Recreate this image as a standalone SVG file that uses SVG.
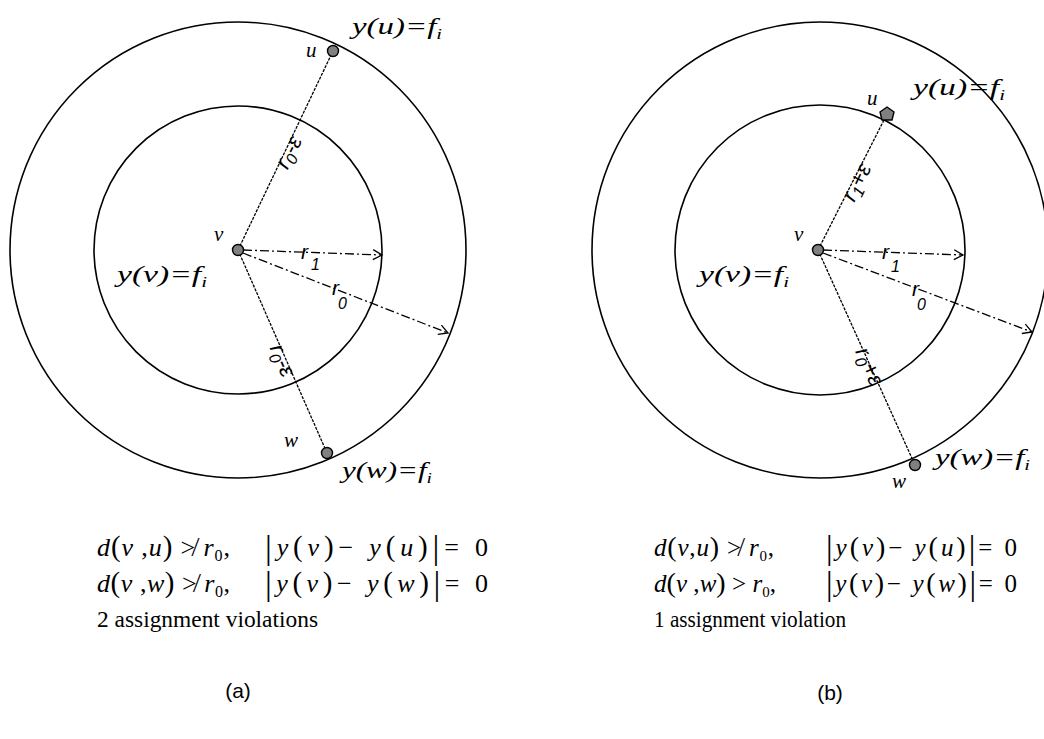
<svg xmlns="http://www.w3.org/2000/svg" width="1044" height="739" viewBox="0 0 1044 739">
<style>
.circ{fill:none;stroke:#000;stroke-width:1.6}
.edge{fill:none;stroke:#000;stroke-width:1.3;stroke-dasharray:3,1.2}
.rad{fill:none;stroke:#000;stroke-width:1.3;stroke-dasharray:9,3,2,3}
.node{fill:#808080;stroke:#000;stroke-width:1.4}
.hand{font-family:"Liberation Serif",serif;font-style:italic;fill:#000}
.lbl{font-family:"Liberation Sans",sans-serif;font-style:italic;fill:#000}
.math{font-family:"Liberation Serif","DejaVu Serif",serif;fill:#000}
.it{font-style:italic}
.cap{font-family:"Liberation Serif",serif;font-size:23px;fill:#000}
.sub{font-family:"Liberation Sans",sans-serif;font-size:21px;fill:#000}
</style>
<defs>
<marker id="open" markerWidth="12" markerHeight="12" refX="10" refY="6" orient="auto" markerUnits="userSpaceOnUse">
<path d="M1,1 L10,6 L1,11" fill="none" stroke="#000" stroke-width="1.3"/>
</marker>
</defs>

<g id="panel-a-circles">
<circle class="circ" cx="238" cy="250" r="228"/>
<circle class="circ" cx="238" cy="250" r="144"/>
</g>
<g id="panel-b-circles">
<circle class="circ" cx="820" cy="250" r="228"/>
<circle class="circ" cx="820" cy="250" r="145"/>
</g>

<g id="connectors">
<line class="edge" x1="238" y1="250" x2="333" y2="51"/>
<line class="edge" x1="238" y1="250" x2="327" y2="453"/>
<line class="rad" x1="243" y1="250" x2="382" y2="255" marker-end="url(#open)"/>
<line class="rad" x1="243" y1="253" x2="448" y2="333" marker-end="url(#open)"/>
<line class="edge" x1="818" y1="250" x2="887" y2="114"/>
<line class="edge" x1="818" y1="250" x2="915" y2="465"/>
<line class="rad" x1="823" y1="250" x2="963" y2="255" marker-end="url(#open)"/>
<line class="rad" x1="823" y1="253" x2="1032" y2="332" marker-end="url(#open)"/>
</g>

<g id="edge-labels">
<text class="lbl" font-size="22" transform="translate(288,152) rotate(-64)" text-anchor="middle" dominant-baseline="central">r<tspan font-size="16" dy="6">0</tspan><tspan dy="-6">-ε</tspan></text>
<text class="lbl" font-size="22" transform="translate(283,360) rotate(66)" text-anchor="middle" dominant-baseline="central">r<tspan font-size="16" dy="6">0</tspan><tspan dy="-6">-ε</tspan></text>
<text class="lbl" font-size="22" transform="translate(856,182) rotate(-64)" text-anchor="middle" dominant-baseline="central">r<tspan font-size="16" dy="6">1</tspan><tspan dy="-6">+ε</tspan></text>
<text class="lbl" font-size="22" transform="translate(870,366) rotate(65)" text-anchor="middle" dominant-baseline="central">r<tspan font-size="16" dy="6">0</tspan><tspan dy="-6">+ε</tspan></text>
<text class="lbl" font-size="21" x="301" y="259">r</text><text class="lbl" font-size="16" x="311" y="270">1</text>
<text class="lbl" font-size="21" x="332" y="295">r</text><text class="lbl" font-size="16" x="338" y="309">0</text>
<text class="lbl" font-size="21" x="882" y="259">r</text><text class="lbl" font-size="16" x="891" y="272">1</text>
<text class="lbl" font-size="21" x="912" y="296">r</text><text class="lbl" font-size="16" x="917" y="310">0</text>
</g>

<g id="node-a-v">
<circle class="node" cx="238" cy="250" r="5.5"/>
<text class="hand" font-size="21" x="214" y="241">v</text>
<text class="hand" font-size="24" x="117" y="282" textLength="90" lengthAdjust="spacingAndGlyphs">y(v)=f<tspan font-size="15" dy="5">i</tspan></text>
</g>
<g id="node-a-u">
<circle class="node" cx="333" cy="51" r="5.5"/>
<text class="hand" font-size="21" x="306" y="57">u</text>
<text class="hand" font-size="24" x="352" y="34" textLength="90" lengthAdjust="spacingAndGlyphs">y(u)=f<tspan font-size="15" dy="5">i</tspan></text>
</g>
<g id="node-a-w">
<circle class="node" cx="327" cy="453" r="5.5"/>
<text class="hand" font-size="21" x="284" y="447">w</text>
<text class="hand" font-size="24" x="342" y="478" textLength="90" lengthAdjust="spacingAndGlyphs">y(w)=f<tspan font-size="15" dy="5">i</tspan></text>
</g>

<g id="node-b-v">
<circle class="node" cx="818" cy="250" r="5.5"/>
<text class="hand" font-size="21" x="794" y="241">v</text>
<text class="hand" font-size="24" x="699" y="282" textLength="90" lengthAdjust="spacingAndGlyphs">y(v)=f<tspan font-size="15" dy="5">i</tspan></text>
</g>
<g id="node-b-u">
<path class="node" d="M887,107 L894,112 L892,120 L882,120 L880,112 Z"/>
<text class="hand" font-size="21" x="867" y="105">u</text>
<text class="hand" font-size="24" x="913" y="95" textLength="92" lengthAdjust="spacingAndGlyphs">y(u)=f<tspan font-size="15" dy="5">i</tspan></text>
</g>
<g id="node-b-w">
<circle class="node" cx="915" cy="465" r="5.5"/>
<text class="hand" font-size="21" x="892" y="488">w</text>
<text class="hand" font-size="24" x="935" y="465" textLength="95" lengthAdjust="spacingAndGlyphs">y(w)=f<tspan font-size="15" dy="5">i</tspan></text>
</g>

<g id="caption-a">
<text class="math" font-size="26" x="97" y="556" textLength="133" lengthAdjust="spacing"><tspan class="it">d</tspan><tspan font-size="29">(</tspan><tspan class="it">v</tspan> ,<tspan class="it">u</tspan><tspan font-size="29">)</tspan> ≯ <tspan class="it">r</tspan><tspan font-size="16" dy="5">0</tspan><tspan dy="-5">,</tspan></text>
<text class="math" font-size="26" x="265" y="556" textLength="223" lengthAdjust="spacing"><tspan font-size="34" dy="3">|</tspan><tspan dy="-3" class="it">y</tspan><tspan font-size="29">(</tspan><tspan class="it">v</tspan><tspan font-size="29">)</tspan>− <tspan class="it">y</tspan><tspan font-size="29">(</tspan><tspan class="it">u</tspan><tspan font-size="29">)</tspan><tspan font-size="34" dy="3">|</tspan><tspan dy="-3">= 0</tspan></text>
<text class="math" font-size="26" x="97" y="592" textLength="133" lengthAdjust="spacing"><tspan class="it">d</tspan><tspan font-size="29">(</tspan><tspan class="it">v</tspan> ,<tspan class="it">w</tspan><tspan font-size="29">)</tspan> ≯ <tspan class="it">r</tspan><tspan font-size="16" dy="5">0</tspan><tspan dy="-5">,</tspan></text>
<text class="math" font-size="26" x="265" y="592" textLength="223" lengthAdjust="spacing"><tspan font-size="34" dy="3">|</tspan><tspan dy="-3" class="it">y</tspan><tspan font-size="29">(</tspan><tspan class="it">v</tspan><tspan font-size="29">)</tspan>− <tspan class="it">y</tspan><tspan font-size="29">(</tspan><tspan class="it">w</tspan><tspan font-size="29">)</tspan><tspan font-size="34" dy="3">|</tspan><tspan dy="-3">= 0</tspan></text>
<text class="cap" x="97" y="627" textLength="221" lengthAdjust="spacingAndGlyphs">2 assignment violations</text>
<text class="sub" x="238" y="698" text-anchor="middle">(a)</text>
</g>

<g id="caption-b">
<text class="math" font-size="25" x="654" y="556" textLength="120" lengthAdjust="spacing"><tspan class="it">d</tspan><tspan font-size="28">(</tspan><tspan class="it">v</tspan>,<tspan class="it">u</tspan><tspan font-size="28">)</tspan> ≯ <tspan class="it">r</tspan><tspan font-size="15" dy="5">0</tspan><tspan dy="-5">,</tspan></text>
<text class="math" font-size="25" x="826" y="556" textLength="191" lengthAdjust="spacing"><tspan font-size="33" dy="3">|</tspan><tspan dy="-3" class="it">y</tspan><tspan font-size="28">(</tspan><tspan class="it">v</tspan><tspan font-size="28">)</tspan>− <tspan class="it">y</tspan><tspan font-size="28">(</tspan><tspan class="it">u</tspan><tspan font-size="28">)</tspan><tspan font-size="33" dy="3">|</tspan><tspan dy="-3">= 0</tspan></text>
<text class="math" font-size="25" x="654" y="592" textLength="122" lengthAdjust="spacing"><tspan class="it">d</tspan><tspan font-size="28">(</tspan><tspan class="it">v</tspan> ,<tspan class="it">w</tspan><tspan font-size="28">)</tspan> &gt; <tspan class="it">r</tspan><tspan font-size="15" dy="5">0</tspan><tspan dy="-5">,</tspan></text>
<text class="math" font-size="25" x="826" y="592" textLength="191" lengthAdjust="spacing"><tspan font-size="33" dy="3">|</tspan><tspan dy="-3" class="it">y</tspan><tspan font-size="28">(</tspan><tspan class="it">v</tspan><tspan font-size="28">)</tspan>− <tspan class="it">y</tspan><tspan font-size="28">(</tspan><tspan class="it">w</tspan><tspan font-size="28">)</tspan><tspan font-size="33" dy="3">|</tspan><tspan dy="-3">= 0</tspan></text>
<text class="cap" x="654" y="627" textLength="192" lengthAdjust="spacingAndGlyphs">1 assignment violation</text>
<text class="sub" x="830" y="700" text-anchor="middle">(b)</text>
</g>
</svg>
